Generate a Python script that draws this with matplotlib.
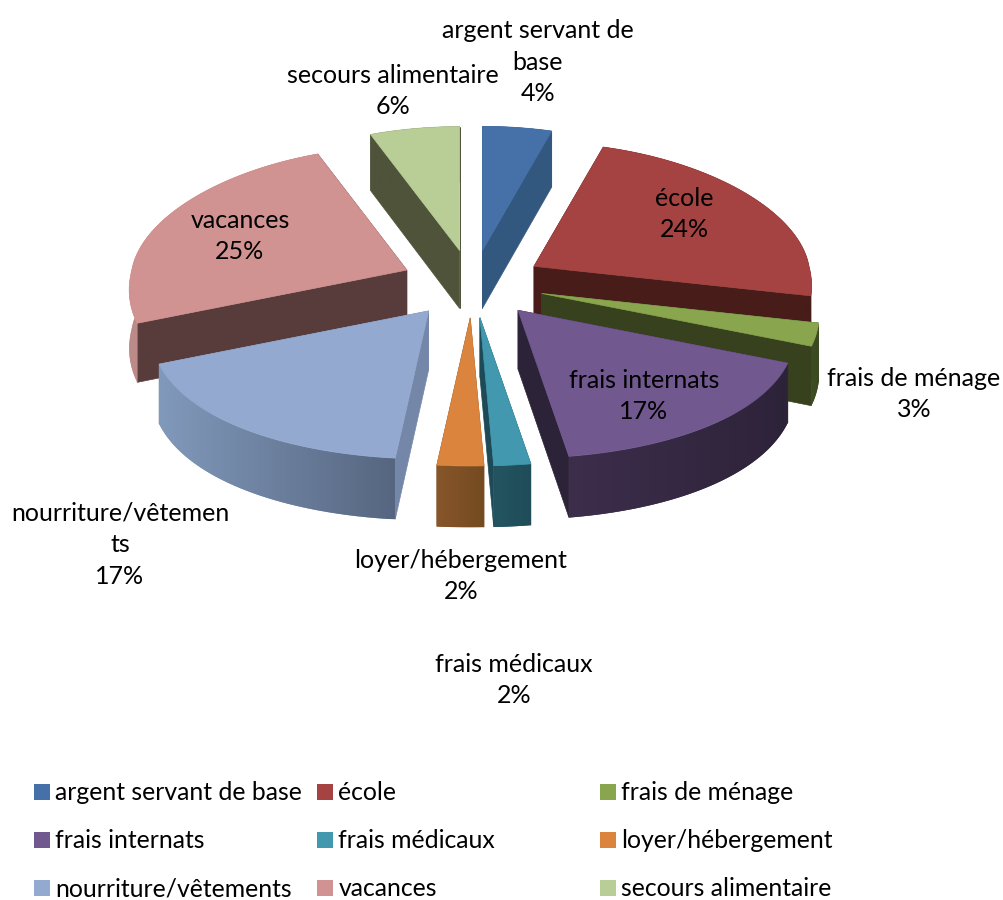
import numpy as np
import matplotlib
matplotlib.use('Agg')
import matplotlib.pyplot as plt
from matplotlib.colors import to_rgb
from matplotlib.patches import Polygon, Rectangle

plt.rcParams['font.family'] = ['Lato', 'DejaVu Sans']

categories = ['argent servant de base', 'école', 'frais de ménage', 'frais internats', 'frais médicaux',
              'loyer/hébergement', 'nourriture/vêtements', 'vacances', 'secours alimentaire']
# wrapped the way the chart wraps them
labels = ['argent servant de\nbase', 'école', 'frais de ménage', 'frais internats', 'frais médicaux',
          'loyer/hébergement', 'nourriture/vêtemen\nts', 'vacances', 'secours alimentaire']
values = [4.4, 23.8, 2.6, 16.6, 1.9, 2.4, 17.45, 25.15, 5.7]

top_colors = ['#4670a8', '#a44341', '#89a54e', '#71588f', '#4198af', '#db843d', '#93a9cf', '#d19392', '#b9cd96']
radial_colors = ['#33587f', '#471c19', '#38411d', '#2d2339', '#1d4a56', '#7a4a22', '#7587a8', '#583c3c', '#4e533a']
wall_left = ['#33587f', '#471c19', '#3f4d22', '#3d2e4c', '#235560', '#87562a', '#8199bb', '#bd8b89', '#4e533a']
wall_right = ['#33587f', '#471c19', '#3a4a20', '#2d2339', '#1f4c58', '#744a20', '#566680', '#a87c7b', '#4e533a']

label_pos = [(538, 62), (684, 214), (914, 394), (644, 396), (514, 680), (461, 576), (120, 545), (240, 236), (393, 91)]

CX, CY = 472.5, 284
EXPL_X, EXPL_Y = 72, 34
RX, RY_FRONT, RY_BACK = 275, 148, 124
FS = 18


def rim(theta, apex):
    # perspective: the front of the pie is a bit wider and deeper than the back
    c = np.cos(theta)
    sx = np.where(c < 0, 1 - 0.14 * c, 1 - 0.08 * c)
    ry = np.where(c < 0, RY_FRONT, RY_BACK)
    return np.column_stack([apex[0] + RX * sx * np.sin(theta), apex[1] - ry * c])


def drop(pts):
    out = pts.copy()
    out[:, 1] += 56 + (pts[:, 1] - 130) * 0.016
    return out


fig = plt.figure(figsize=(10.04, 9), dpi=100)
ax = fig.add_axes([0, 0, 1, 1])
ax.axis('off')

edges = np.cumsum([0] + values) / sum(values) * 2 * np.pi
mids = (edges[:-1] + edges[1:]) / 2

z = 1
for i in sorted(range(len(values)), key=lambda k: -np.cos(mids[k])):
    apex = np.array([CX + EXPL_X * np.sin(mids[i]), CY - EXPL_Y * np.cos(mids[i])])
    th = np.linspace(edges[i], edges[i + 1], 80)
    arc = rim(th, apex)
    apex_arr = apex.reshape(1, 2)
    for end in (arc[:1], arc[-1:]):
        quad = np.vstack([apex_arr, end, drop(end), drop(apex_arr)])
        ax.add_patch(Polygon(quad, closed=True, fc=radial_colors[i], ec=radial_colors[i], lw=0.5, zorder=z))
    low = drop(arc)
    wall = Polygon(np.vstack([arc, low[::-1]]), closed=True, fc=wall_left[i], ec='none', zorder=z)
    ax.add_patch(wall)
    # left to right shading of the rim
    f = np.linspace(0, 1, 128)[:, None]
    grad = (1 - f) * np.array(to_rgb(wall_left[i])) + f * np.array(to_rgb(wall_right[i]))
    im = ax.imshow(grad.reshape(1, 128, 3), aspect='auto', zorder=z + 0.1, interpolation='bilinear',
                   extent=(arc[:, 0].min(), arc[:, 0].max() + 0.5, low[:, 1].max(), arc[:, 1].min()))
    im.set_clip_path(wall)
    ax.add_patch(Polygon(np.vstack([apex_arr, arc]), closed=True, fc=top_colors[i], ec=top_colors[i], lw=0.5,
                         zorder=z + 0.2))
    z += 1

for i, name in enumerate(labels):
    ax.text(label_pos[i][0], label_pos[i][1], f'{name}\n{round(values[i])}%', ha='center', va='center',
            fontsize=FS, color='black', linespacing=1.45, zorder=50)

# legend laid out by hand, the three columns are evenly spaced in the original
for i, name in enumerate(categories):
    col, row = i % 3, i // 3
    x = 34 + 283 * col
    y = 792 + 48 * row
    ax.add_patch(Rectangle((x, y - 8), 16, 16, fc=top_colors[i], ec='none'))
    ax.text(x + 21.5, y + 1, name, ha='left', va='center', fontsize=17.85, color='black')

ax.set_xlim(0, 1004)
ax.set_ylim(900, 0)
fig.savefig('out.png', dpi=100)
